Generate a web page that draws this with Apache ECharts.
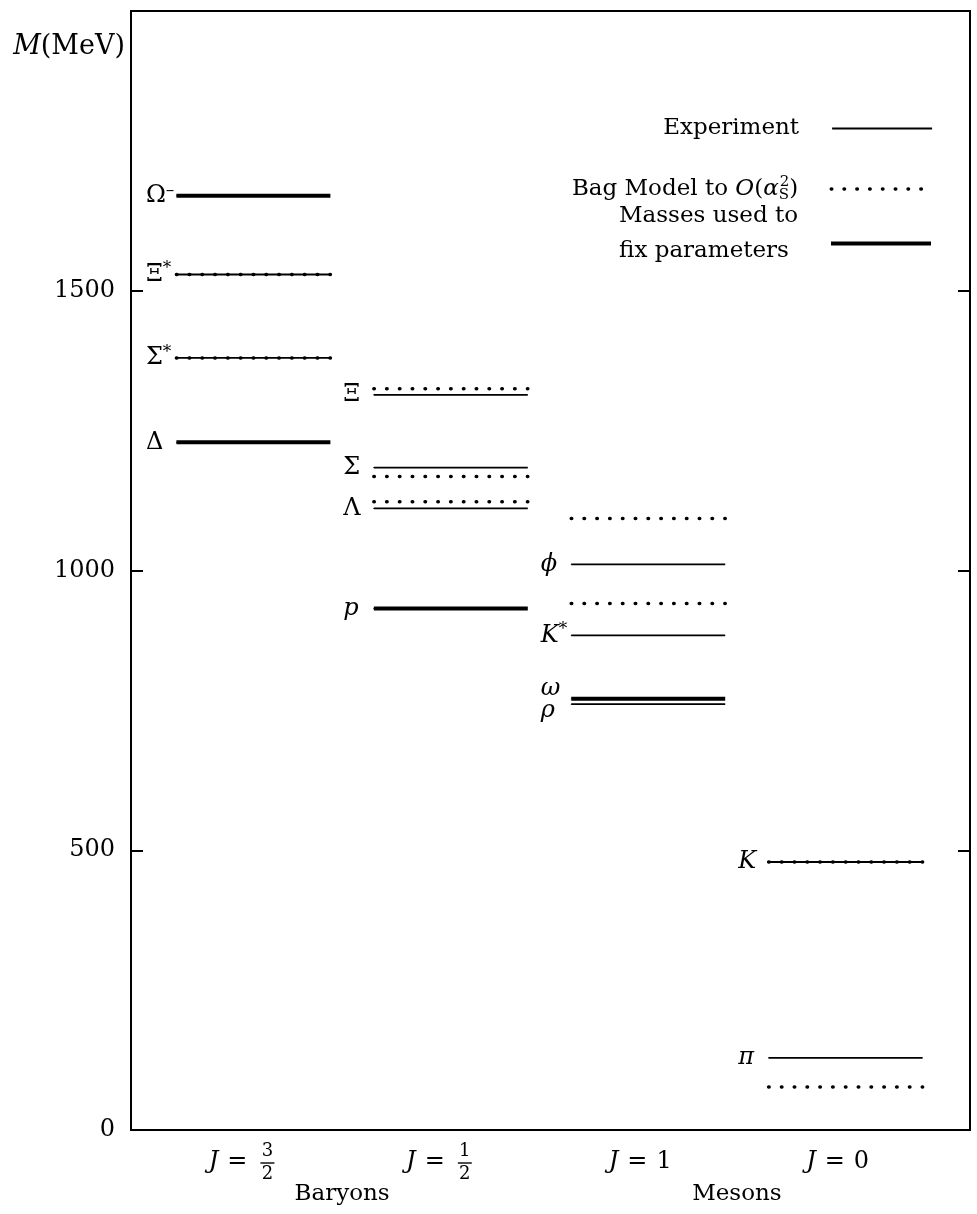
<!DOCTYPE html>
<html>
<head>
<meta charset="utf-8">
<script src="https://cdn.jsdelivr.net/npm/echarts@6/dist/echarts.min.js"></script>
<style>html,body{margin:0;padding:0;background:#fff}#c{width:977px;height:1214px}</style>
</head>
<body>
<div id="c"></div>
<script>
// ---------- data ----------
const columns = [1, 2, 3, 4];
const spinLabels = ['3/2', '1/2', '1', '0'];
const groupPos = [1.5, 3.5];
const groupLabels = ['Baryons', 'Mesons'];
const yTicks = [0, 500, 1000, 1500];

// Experiment (thin solid)
const expCol  = [1, 1, 2, 2, 2, 3, 3, 3, 4, 4];
const expMass = [1529, 1380, 1314, 1184, 1111, 1011, 884, 761, 479, 129];
const expName = ['Ξ*', 'Σ*', 'Ξ', 'Σ', 'Λ', 'ϕ', 'K*', 'ρ', 'K', 'π'];

// Bag Model to O(alpha_S^2) (dotted)
const bagCol  = [1, 1, 2, 2, 2, 3, 3, 4, 4];
const bagMass = [1529, 1380, 1325, 1168, 1123, 1093, 941, 479, 77];

// Masses used to fix parameters (thick solid)
const fixCol  = [1, 1, 2, 3];
const fixMass = [1670, 1229, 932, 771];
const fixName = ['Ω⁻', 'Δ', 'p', 'ω'];

const seriesNames = ['Experiment', 'Bag Model to O(αS²)', 'Masses used to fix parameters'];

// ---------- helpers ----------
const FONT = 'DejaVu Serif';
const HALF = 0.39;

function levelData(cols, masses) {
  const out = [];
  cols.forEach((c, i) => {
    out.push([c - HALF, masses[i]], [c + HALF, masses[i]], '-');
  });
  return out;
}

function fmtName(n) {
  let base = n, sup = '';
  const last = n.slice(-1);
  if (last === '*' || last === '⁻') {
    base = n.slice(0, -1);
    sup = last === '*' ? '*' : '–';
  }
  const italic = /[a-zA-Zα-ωϕ]/.test(base);
  let s = '{' + (italic ? 'it' : 'up') + '|' + base + '}';
  if (sup) s += '{sup|' + sup + '}';
  return s;
}

const nameRich = {
  up:  { fontFamily: FONT, fontSize: 24, lineHeight: 28, color: '#000' },
  it:  { fontFamily: FONT, fontSize: 24, lineHeight: 28, fontStyle: 'italic', color: '#000' },
  sup: { fontFamily: FONT, fontSize: 17, lineHeight: 17, verticalAlign: 'top', color: '#000' }
};

const labelOffsets = { 'ω': [0, -10], 'ρ': [0, 7] };

const nameData = [];
expCol.forEach((c, i) => nameData.push({ name: expName[i], value: [c - HALF, expMass[i]] }));
fixCol.forEach((c, i) => nameData.push({ name: fixName[i], value: [c - HALF, fixMass[i]] }));
nameData.forEach(d => { if (labelOffsets[d.name]) d.label = { offset: labelOffsets[d.name] }; });

const legendRich = {
  t:   { fontFamily: FONT, fontSize: 23, lineHeight: 28, color: '#000', align: 'left' },
  it:  { fontFamily: FONT, fontSize: 23, lineHeight: 28, color: '#000', align: 'left', fontStyle: 'italic' },
  sup: { fontFamily: FONT, fontSize: 15, lineHeight: 15, color: '#000', align: 'left', verticalAlign: 'top' },
  sub: { fontFamily: FONT, fontSize: 15, lineHeight: 15, color: '#000', align: 'left', verticalAlign: 'bottom', width: 1 },
  m:   { fontFamily: FONT, fontSize: 23, lineHeight: 35, color: '#000', align: 'left' },
  g:   { fontSize: 10, width: 28, align: 'left' },
  sp:  { fontSize: 4, lineHeight: 19, align: 'left' }
};

function legendFmt(name) {
  if (name === seriesNames[0]) return '{t|Experiment}{g| }';
  if (name === seriesNames[1]) return '{t|Bag Model to }{it|O}{t|(}{it|α}{sub|S}{sup|2}{t|)}{g| }';
  return '{m|Masses used to}{g| }\n{m|fix parameters}{g| }\n{sp| }';
}

function legendCfg(name, top, width) {
  return {
    data: [name], right: 44, top: top, orient: 'horizontal', align: 'right',
    itemWidth: 100, itemHeight: 14, padding: 0, selectedMode: false,
    lineStyle: { width: width },
    itemStyle: { opacity: 0 },
    formatter: legendFmt,
    textStyle: { fontFamily: FONT, fontSize: 23, color: '#000', rich: legendRich }
  };
}

const jRich = {
  it: { fontFamily: FONT, fontSize: 24, fontStyle: 'italic', fill: '#000' },
  up: { fontFamily: FONT, fontSize: 24, fill: '#000' },
  s:  { fontFamily: FONT, fontSize: 10, width: 9, fill: '#000' }
};

// ---------- chart ----------
const chart = echarts.init(document.getElementById('c'), null, { renderer: 'canvas' });

chart.setOption({
  animation: false,
  backgroundColor: '#fff',
  grid: { left: 131, right: 7, top: 11, bottom: 84, show: true, borderColor: '#000', borderWidth: 2 },
  legend: [
    legendCfg(seriesNames[0], 117, 1.8),
    legendCfg(seriesNames[1], 175, 3.5),
    legendCfg(seriesNames[2], 205, 4)
  ],
  xAxis: { type: 'value', min: 0.38, max: 4.63, show: false },
  yAxis: [
    {
      type: 'value', min: 0, max: 2000, interval: 500, position: 'left',
      name: '{it|M}{up|(MeV)}', nameLocation: 'end', nameGap: -36,
      nameTextStyle: {
        align: 'right', verticalAlign: 'middle', padding: [0, 6, 0, 0],
        rich: {
          it: { fontFamily: FONT, fontSize: 27, fontStyle: 'italic', color: '#000' },
          up: { fontFamily: FONT, fontSize: 27, color: '#000' }
        }
      },
      axisLine: { show: false },
      axisTick: { show: true, inside: true, length: 12, lineStyle: { color: '#000', width: 2 } },
      axisLabel: {
        margin: 16, fontFamily: FONT, fontSize: 24, color: '#000',
        showMaxLabel: false,
        formatter: v => (yTicks.indexOf(v) >= 0 ? String(v) : '')
      },
      splitLine: { show: false }
    },
    {
      type: 'value', min: 0, max: 2000, interval: 500, position: 'right',
      axisLine: { show: false },
      axisTick: { show: true, inside: true, length: 12, lineStyle: { color: '#000', width: 2 } },
      axisLabel: { show: false },
      splitLine: { show: false }
    }
  ],
  series: [
    {
      name: seriesNames[0], type: 'line', data: levelData(expCol, expMass),
      symbol: 'none', connectNulls: false, silent: true, z: 3,
      color: '#000', lineStyle: { color: '#000', width: 1.8 }
    },
    {
      name: seriesNames[1], type: 'line', data: levelData(bagCol, bagMass),
      symbol: 'none', connectNulls: false, silent: true, z: 4,
      color: '#000', lineStyle: { color: '#000', width: 3.5, type: [0.5, 12.3], cap: 'round' }
    },
    {
      name: seriesNames[2], type: 'line', data: levelData(fixCol, fixMass),
      symbol: 'none', connectNulls: false, silent: true, z: 3,
      color: '#000', lineStyle: { color: '#000', width: 4 }
    },
    {
      name: 'levelNames', type: 'scatter', data: nameData, symbolSize: 1, silent: true, z: 5,
      itemStyle: { color: '#000', opacity: 1 },
      label: {
        show: true, position: 'left', distance: 30, align: 'left', verticalAlign: 'middle',
        color: '#000', opacity: 1, formatter: p => fmtName(p.name), rich: nameRich
      }
    },
    {
      name: 'spinLabels', type: 'custom', silent: true, clip: false,
      data: columns.map((c, i) => [c, i]),
      renderItem: function (params, api) {
        const i = params.dataIndex;
        const p = api.coord([api.value(0), 0]);
        const lab = spinLabels[i];
        const y = p[1] + 32;
        const ch = [];
        if (lab.indexOf('/') >= 0) {
          const parts = lab.split('/');
          const x = p[0] - 14;
          ch.push({ type: 'text', style: { text: '{it|J}{s| }{up|=}', rich: jRich, x: x + 8, y: y, align: 'right', verticalAlign: 'middle' } });
          ch.push({ type: 'text', style: { text: parts[0], x: x + 28, y: y - 11, align: 'center', verticalAlign: 'middle', fontFamily: FONT, fontSize: 18, fill: '#000' } });
          ch.push({ type: 'line', shape: { x1: x + 21, y1: y + 1, x2: x + 35, y2: y + 1 }, style: { stroke: '#000', lineWidth: 1.4 } });
          ch.push({ type: 'text', style: { text: parts[1], x: x + 28, y: y + 12, align: 'center', verticalAlign: 'middle', fontFamily: FONT, fontSize: 18, fill: '#000' } });
        } else {
          ch.push({ type: 'text', style: { text: '{it|J}{s| }{up|=}{s| }{up|' + lab + '}', rich: jRich, x: p[0] - 8, y: y, align: 'center', verticalAlign: 'middle' } });
        }
        return { type: 'group', children: ch };
      }
    },
    {
      name: 'groupLabels', type: 'custom', silent: true, clip: false,
      data: groupPos.map((c, i) => [c, i]),
      renderItem: function (params, api) {
        const p = api.coord([api.value(0), 0]);
        return {
          type: 'text',
          style: { text: groupLabels[params.dataIndex], x: p[0] - 10, y: p[1] + 64, align: 'center', verticalAlign: 'middle', fontFamily: FONT, fontSize: 23, fill: '#000' }
        };
      }
    }
  ]
});
</script>
</body>
</html>
